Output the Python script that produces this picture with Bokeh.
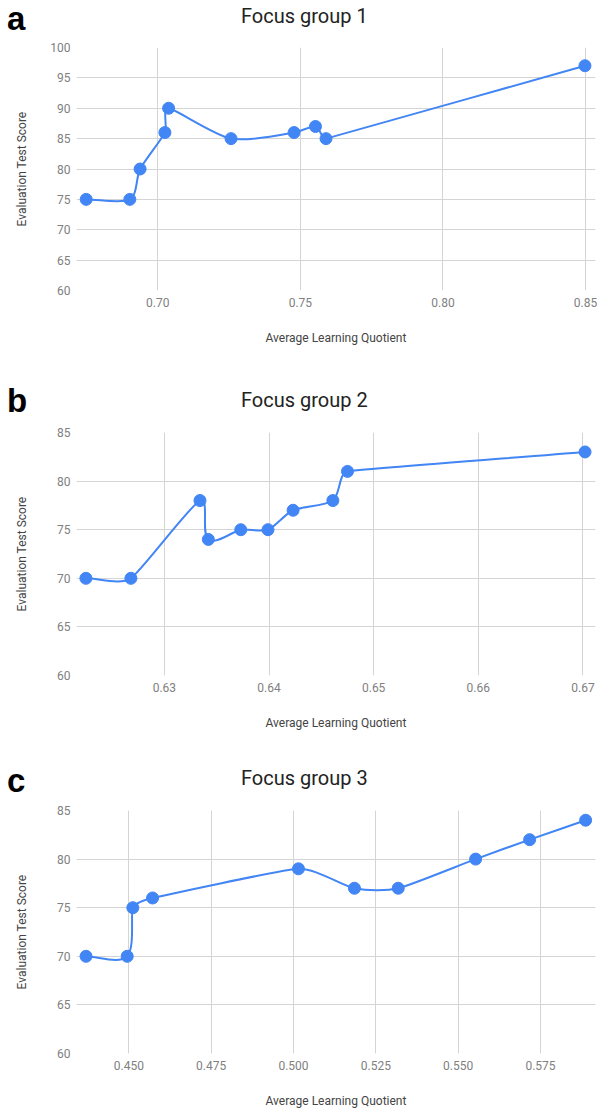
import numpy as np
from bokeh.plotting import figure
from bokeh.models import FixedTicker, PrintfTickFormatter, Range1d, Div
from bokeh.layouts import column
from bokeh.embed import file_html
from bokeh.resources import INLINE

# ---------------- data ----------------
titles = ["Focus group 1", "Focus group 2", "Focus group 3"]
letters = ["a", "b", "c"]
x_label = "Average Learning Quotient"
y_label = "Evaluation Test Score"

a_x = [0.6749, 0.6902, 0.6938, 0.7025, 0.7038, 0.7257, 0.7478, 0.7553, 0.7590, 0.8498]
a_y = [75, 75, 80, 86, 90, 85, 86, 87, 85, 97]
b_x = [0.6225, 0.6268, 0.6334, 0.6342, 0.6373, 0.6399, 0.6423, 0.6461, 0.6475, 0.6702]
b_y = [70, 70, 78, 74, 75, 75, 77, 78, 81, 83]
c_x = [0.4370, 0.4495, 0.4512, 0.4572, 0.5015, 0.5185, 0.5318, 0.5553, 0.5717, 0.5887]
c_y = [70, 70, 75, 76, 79, 77, 77, 80, 82, 84]

a_xticks = [0.70, 0.75, 0.80, 0.85]
b_xticks = [0.63, 0.64, 0.65, 0.66, 0.67]
c_xticks = [0.450, 0.475, 0.500, 0.525, 0.550, 0.575]
a_yticks = [60, 65, 70, 75, 80, 85, 90, 95, 100]
bc_yticks = [60, 65, 70, 75, 80, 85]

a_xrange = (0.6715, 0.8535)
b_xrange = (0.6216, 0.6712)
c_xrange = (0.4341, 0.5917)
a_yrange = (60, 100)
bc_yrange = (60, 85)

BLUE = "#4285F4"
W = 598
FRAME_W = 519
FRAME_H = 243


def smooth_bezier(xs, ys, xr, yr, f=0.28):
    sx = FRAME_W / (xr[1] - xr[0])
    sy = FRAME_H / (yr[1] - yr[0])
    X = np.asarray(xs, float) * sx
    Y = np.asarray(ys, float) * sy
    n = len(X)
    seg = np.hypot(np.diff(X), np.diff(Y))
    tx = np.zeros(n)
    ty = np.zeros(n)
    arm = np.zeros(n)
    for i in range(n):
        i0 = max(i - 1, 0)
        i1 = min(i + 1, n - 1)
        dx, dy = X[i1] - X[i0], Y[i1] - Y[i0]
        L = np.hypot(dx, dy)
        tx[i], ty[i] = dx / L, dy / L
        near = [seg[j] for j in (i - 1, i) if 0 <= j < n - 1]
        arm[i] = f * min(near)
    cx0 = (X[:-1] + tx[:-1] * arm[:-1]) / sx
    cy0 = (Y[:-1] + ty[:-1] * arm[:-1]) / sy
    cx1 = (X[1:] - tx[1:] * arm[1:]) / sx
    cy1 = (Y[1:] - ty[1:] * arm[1:]) / sy
    return dict(x0=list(xs[:-1]), y0=list(ys[:-1]), x1=list(xs[1:]), y1=list(ys[1:]),
                cx0=list(cx0), cy0=list(cy0), cx1=list(cx1), cy1=list(cy1))


def make_header(title, letter, height, title_top, letter_top):
    html = (
        f'<div style="position:relative;width:{W}px;height:{height}px;overflow:hidden;margin:0;padding:0;">'
        f'<span style="position:absolute;left:7px;top:{letter_top}px;'
        f'font-family:\'Liberation Sans\',Arial,sans-serif;font-weight:bold;font-size:33px;'
        f'line-height:33px;color:#000;white-space:nowrap;">{letter}</span>'
        f'<span style="position:absolute;left:241px;top:{title_top}px;'
        f'font-family:Roboto,sans-serif;font-weight:normal;font-size:20px;'
        f'line-height:20px;color:#222;white-space:nowrap;">{title}</span>'
        f'</div>'
    )
    return Div(text=html, width=W, height=height, margin=0)


def make_panel(xs, ys, xr, yr, xticks, yticks, fmt,
               height, border_bottom, ylab_standoff):
    p = figure(width=W, height=height, output_backend="svg", toolbar_location=None,
               x_range=Range1d(*xr), y_range=Range1d(*yr),
               min_border_left=76, min_border_right=3,
               min_border_top=8, min_border_bottom=border_bottom)
    p.outline_line_color = None
    p.background_fill_color = "white"
    p.border_fill_color = "white"

    for ax in (p.xaxis[0], p.yaxis[0]):
        ax.axis_line_color = None
        ax.major_tick_line_color = None
        ax.minor_tick_line_color = None
        ax.major_tick_out = 0
        ax.minor_tick_out = 0
        ax.major_tick_in = 0
        ax.minor_tick_in = 0
        ax.major_label_text_font = "Roboto"
        ax.major_label_text_font_size = "12px"
        ax.major_label_text_color = "#808080"
        ax.axis_label_text_font = "Roboto"
        ax.axis_label_text_font_size = "12px"
        ax.axis_label_text_font_style = "normal"
        ax.axis_label_text_color = "#444444"

    p.xaxis.ticker = FixedTicker(ticks=xticks)
    p.xaxis.formatter = PrintfTickFormatter(format=fmt)
    p.xaxis.major_label_standoff = 7
    p.xaxis.axis_label = x_label
    p.xaxis.axis_label_standoff = 21

    p.yaxis.ticker = FixedTicker(ticks=yticks)
    p.yaxis.major_label_standoff = 6
    p.yaxis.axis_label = y_label
    p.yaxis.axis_label_standoff = ylab_standoff

    p.xgrid.grid_line_color = "#d4d4d4"
    p.ygrid.grid_line_color = "#d4d4d4"
    p.xgrid.grid_line_width = 1
    p.ygrid.grid_line_width = 1

    p.bezier(source=smooth_bezier(xs, ys, xr, yr), x0="x0", y0="y0", x1="x1", y1="y1",
             cx0="cx0", cy0="cy0", cx1="cx1", cy1="cy1",
             line_color=BLUE, line_width=2)
    p.scatter(xs, ys, size=12, fill_color=BLUE, line_color=BLUE)
    return p


ha = make_header(titles[0], letters[0], 39, 6, 2)
pa = make_panel(a_x, a_y, a_xrange, a_yrange, a_xticks, a_yticks, "%.2f",
                341, 90, 18)
hb = make_header(titles[1], letters[1], 44, 10, 4)
pb = make_panel(b_x, b_y, b_xrange, bc_yrange, b_xticks, bc_yticks, "%.2f",
                336, 85, 25)
hc = make_header(titles[2], letters[2], 42, 8, 4)
pc = make_panel(c_x, c_y, c_xrange, bc_yrange, c_xticks, bc_yticks, "%.3f",
                308, 57, 25)

layout = column(ha, pa, hb, pb, hc, pc, spacing=0)
open("out.html", "w").write(file_html(layout, INLINE))
